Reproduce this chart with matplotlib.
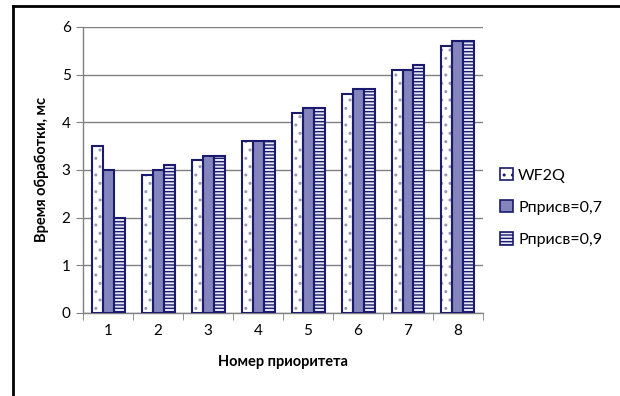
import numpy as np
import matplotlib
matplotlib.use("Agg")
import matplotlib.pyplot as plt
from matplotlib.patches import Patch
from matplotlib.lines import Line2D

categories = ["1", "2", "3", "4", "5", "6", "7", "8"]
wf2q = [3.5, 2.9, 3.2, 3.6, 4.2, 4.6, 5.1, 5.6]
p07 = [3.0, 3.0, 3.3, 3.6, 4.3, 4.7, 5.1, 5.7]
p09 = [2.0, 3.1, 3.3, 3.6, 4.3, 4.7, 5.2, 5.7]
series_names = ["WF2Q", "Рприсв=0,7", "Рприсв=0,9"]

plt.rcParams["font.family"] = ["Lato", "DejaVu Sans"]
plt.rcParams["hatch.linewidth"] = 1.0

navy = "#1a1a6e"
fig = plt.figure(figsize=(6.2, 3.96), dpi=100)
ax = fig.add_axes([0.134, 0.21, 0.645, 0.722])

x = np.arange(len(categories))
w = 0.22
styles = [
    dict(facecolor="white", hatch="..", hatchcolor="#9a9ab8"),
    dict(facecolor="#8585bd", hatch=None, hatchcolor=None),
    dict(facecolor="#e8e8f4", hatch="-----", hatchcolor=navy),
]

for i, (vals, st) in enumerate(zip([wf2q, p07, p09], styles)):
    xs = x + (i - 1) * w
    if st["hatch"]:
        with plt.rc_context({"hatch.color": st["hatchcolor"]}):
            ax.bar(xs, vals, w, color=st["facecolor"], edgecolor=st["hatchcolor"],
                   hatch=st["hatch"], linewidth=0, zorder=2)
    else:
        ax.bar(xs, vals, w, color=st["facecolor"], linewidth=0, zorder=2)
    ax.bar(xs, vals, w, facecolor="none", edgecolor=navy, linewidth=1.5, zorder=3)

ax.set_xlim(-0.5, len(categories) - 0.5)
ax.set_ylim(0, 6)
ax.set_yticks(range(7))
ax.yaxis.grid(True, color="#808080", linewidth=1.0, zorder=0)
ax.set_axisbelow(True)
ax.set_xticks(x)
ax.set_xticklabels(categories)
ax.set_xticks(np.arange(-0.5, len(categories)), minor=True)
ax.tick_params(axis="x", which="major", length=0, pad=8, labelsize=11)
ax.tick_params(axis="x", which="minor", length=5, color="#808080", direction="out")
ax.tick_params(axis="y", length=5, color="#808080", labelsize=11, pad=4)
for s in ["top", "right"]:
    ax.spines[s].set_visible(False)
for s in ["left", "bottom"]:
    ax.spines[s].set_color("#808080")
    ax.spines[s].set_linewidth(1.0)

ax.set_xlabel("Номер приоритета", fontsize=10.5, fontweight="bold", labelpad=12)
ax.set_ylabel("Время обработки, мс", fontsize=10.5, fontweight="bold", labelpad=9)

handles = []
for st in styles:
    handles.append(Patch(facecolor=st["facecolor"], edgecolor=navy,
                         hatch=st["hatch"], linewidth=1.2))
leg = fig.legend(handles, series_names, loc="upper left",
                 bbox_to_anchor=(0.784, 0.612), frameon=False,
                 fontsize=11.5, handlelength=0.8, handleheight=0.8,
                 handletextpad=0.3, labelspacing=1.1)

# outer chart frame
fig.add_artist(Line2D([0.021, 0.021], [0.0, 0.986], color="black", linewidth=2,
                      transform=fig.transFigure))
fig.add_artist(Line2D([0.021, 1.0], [0.986, 0.986], color="black", linewidth=2,
                      transform=fig.transFigure))

fig.savefig("out.png", dpi=100)
